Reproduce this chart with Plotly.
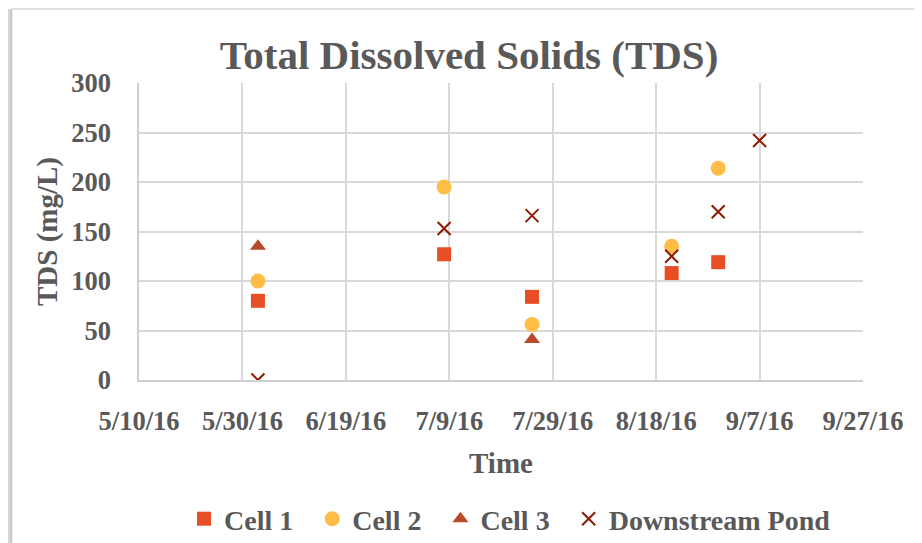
import plotly.graph_objects as go

# ---- data ----
cell1_dates = ["2016-06-02", "2016-07-08", "2016-07-25", "2016-08-21", "2016-08-30"]
cell1_tds = [80, 127, 84, 108, 119]

cell2_dates = ["2016-06-02", "2016-07-08", "2016-07-25", "2016-08-21", "2016-08-30"]
cell2_tds = [100, 195, 56, 135, 214]

cell3_dates = ["2016-06-02", "2016-07-25"]
cell3_tds = [135, 41]

pond_dates = ["2016-06-02", "2016-07-08", "2016-07-25", "2016-08-21", "2016-08-30", "2016-09-07"]
pond_tds = [0, 153, 166, 125, 170, 242]

x_range = ["2016-05-10", "2016-09-27"]
y_range = [0, 300]

FONT = "Liberation Serif"
GRAY = "#595959"
GRID = "#D9D9D9"
NB = "\u00a0"

fig = go.Figure()
fig.add_trace(go.Scatter(x=cell1_dates, y=cell1_tds, mode="markers", name="<b>Cell 1</b>" + NB * 2,
                         marker=dict(symbol="square", size=14, color="#E84E24")))
fig.add_trace(go.Scatter(x=cell2_dates, y=cell2_tds, mode="markers", name="<b>Cell 2</b>" + NB * 2,
                         marker=dict(symbol="circle", size=15, color="#FFBD47")))
fig.add_trace(go.Scatter(x=cell3_dates, y=cell3_tds, mode="markers", name="<b>Cell 3</b>" + NB * 2,
                         marker=dict(symbol="triangle-up", size=14, color="#B84A29")))
fig.add_trace(go.Scatter(x=pond_dates, y=pond_tds, mode="markers", name="<b>Downstream Pond</b>",
                         marker=dict(symbol="x-thin-open", size=13,
                                     line=dict(color="#8B1A00", width=2), color="#8B1A00")))

# page body has an 8px margin, so work in figure pixels = screen pixels - 8
OFF = 8
W, H = 922 - OFF, 543 - OFF
L, T = 139 - OFF, 83 - OFF
R, B = W - (863 - OFF), H - (380 - OFF)
pw, ph = W - L - R, H - T - B

def px(x):
    return (x - OFF - L) / pw

def py(y):
    return (H - B - (y - OFF)) / ph

shapes = [
    dict(type="rect", xref="paper", yref="paper", layer="below",
         x0=px(OFF - 1), x1=px(11), y0=py(H + OFF + 5), y1=py(9),
         line=dict(width=0), fillcolor="#D6D6D6"),
    dict(type="line", xref="paper", yref="paper",
         x0=px(11.5), x1=px(11.5), y0=py(H + OFF + 5), y1=py(9),
         line=dict(color="#C4C4C4", width=1.5)),
    dict(type="line", xref="paper", yref="paper",
         x0=px(11.5), x1=px(W + OFF + 5), y0=py(9), y1=py(9),
         line=dict(color="#D4D4D4", width=1.5)),
]

fig.update_layout(
    width=W, height=H,
    margin=dict(l=L, r=R, t=T, b=B, autoexpand=False),
    paper_bgcolor="white", plot_bgcolor="white",
    font=dict(family=FONT, color=GRAY),
    title=dict(text="<b>Total Dissolved Solids (TDS)</b>", x=(469 - OFF) / W, xanchor="center",
               y=1 - (55 - OFF) / H, yanchor="middle", font=dict(size=41, color=GRAY, family=FONT)),
    xaxis=dict(type="date", range=x_range, tick0=x_range[0], dtick=20 * 86400000,
               tickformat="<b>%-m/%-d/%y</b>", showgrid=True, gridcolor=GRID, gridwidth=1.5,
               showline=True, linecolor="#CFCFCF", linewidth=1.5, mirror=False,
               ticks="", ticklabelstandoff=16, zeroline=False,
               tickfont=dict(size=26.5, color=GRAY, family=FONT),
               title=dict(text="<b>Time</b>", standoff=18, font=dict(size=29, color=GRAY, family=FONT))),
    yaxis=dict(range=y_range, dtick=50, showgrid=True, gridcolor=GRID, gridwidth=1.5,
               showline=True, linecolor="#CFCFCF", linewidth=1.5, zeroline=False,
               ticks="", ticklabelstandoff=21, tickprefix="<b>", ticksuffix="</b>",
               tickfont=dict(size=26.5, color=GRAY, family=FONT),
               title=dict(text="<b>TDS (mg/L)</b>", standoff=5, font=dict(size=29, color=GRAY, family=FONT))),
    legend=dict(orientation="h", x=px(205 - 21), xanchor="left", y=py(519), yanchor="middle",
                font=dict(size=28, color=GRAY, family=FONT), itemwidth=30,
                bgcolor="rgba(0,0,0,0)"),
    showlegend=True,
    shapes=shapes,
)

fig.write_html("out.html")
